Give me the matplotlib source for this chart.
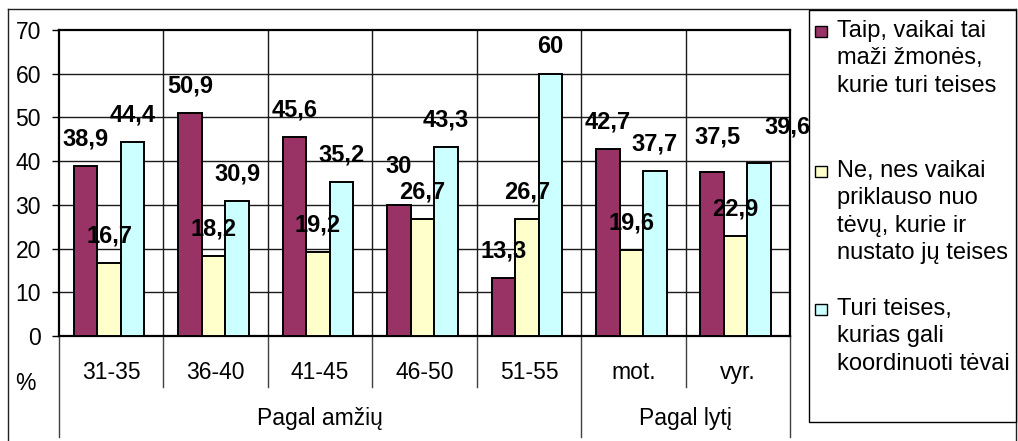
import matplotlib.pyplot as plt
from matplotlib.patches import Rectangle
from matplotlib.lines import Line2D
import matplotlib.transforms as mtransforms

plt.rcParams['font.family'] = ['Liberation Sans', 'DejaVu Sans']

# -------------------------------
# Duomenys
# -------------------------------
categories = ["31-35", "36-40", "41-45", "46-50", "51-55", "mot.", "vyr."]
taip = [38.9, 50.9, 45.6, 30, 13.3, 42.7, 37.5]
ne = [16.7, 18.2, 19.2, 26.7, 26.7, 19.6, 22.9]
turi = [44.4, 30.9, 35.2, 43.3, 60, 37.7, 39.6]
series = [taip, ne, turi]
series_names = [
    "Taip, vaikai tai\nmaži žmonės,\nkurie turi teises",
    "Ne, nes vaikai\npriklauso nuo\ntėvų, kurie ir\nnustato jų teises",
    "Turi teises,\nkurias gali\nkoordinuoti tėvai",
]
groups = ["Pagal amžių", "Pagal lytį"]
group_sizes = [5, 2]

colors = ["#993366", "#FFFFCC", "#CCFFFF"]

W, H = 1018, 441
def px(x, y):
    return x / W, 1 - y / H

fig = plt.figure(figsize=(W / 100, H / 100), dpi=100)
ax = fig.add_axes([59 / W, 1 - 336 / H, (790 - 59) / W, (336 - 30) / H])

bw = 0.225
n = len(categories)
for s, vals in enumerate(series):
    xs = [i + 0.48 + (s - 1) * bw for i in range(n)]
    ax.bar(xs, vals, width=bw, color=colors[s], edgecolor='black',
           linewidth=1.4, zorder=3)

# etikečių poslinkiai (px), kur Excel jas padėjo kitaip
extra = {(0, 3): (0, 11), (0, 6): (5, 8), (2, 6): (28, 9)}
for s, vals in enumerate(series):
    for i, v in enumerate(vals):
        dx, dy = extra.get((s, i), (0, 0))
        ax.annotate(f"{v:g}".replace(".", ","),
                    (i + 0.48 + (s - 1) * bw, v),
                    xytext=(dx * 0.72, (27 + dy) * 0.72),
                    textcoords='offset points', ha='center', va='center',
                    fontsize=17, fontweight='bold', zorder=5,
                    annotation_clip=False)

ax.set_xlim(0, n)
ax.set_ylim(0, 70)
ax.set_yticks(range(0, 71, 10))
ax.tick_params(axis='y', direction='out', length=5, width=1, pad=8,
               labelsize=16.5)
ax.set_xticks([i + 0.5 for i in range(n)])
ax.set_xticklabels(categories, fontsize=16.5)
ax.tick_params(axis='x', length=0, pad=18)

for v in range(10, 70, 10):
    ax.axhline(v, color='#1a1a1a', linewidth=1, zorder=1)
for i in range(1, n):
    ax.axvline(i, color='#1a1a1a', linewidth=1, zorder=1)
for sp in ax.spines.values():
    sp.set_linewidth(1.6)

# separatoriai po ašimi
trans = mtransforms.blended_transform_factory(ax.transData, ax.transAxes)
long_lines = [0]
pos = 0
for g in group_sizes:
    pos += g
    long_lines.append(pos)
for i in range(n + 1):
    y_end = -0.33 if i in long_lines else -0.167
    ax.plot([i, i], [0, y_end], transform=trans, color='#404040',
            linewidth=1, clip_on=False)

start = 0
for g, size in zip(groups, group_sizes):
    ax.text(start + size / 2, -0.268, g, transform=trans, ha='center',
            va='center', fontsize=16.5)
    start += size

fig.text(*px(25, 384), "%", ha='center', va='center', fontsize=16.5)

# išorinis rėmelis
fig.add_artist(Line2D([8 / W, 1016 / W], [1 - 9 / H, 1 - 9 / H],
                      color='#202020', linewidth=1))
fig.add_artist(Line2D([8 / W, 8 / W], [1 - 9 / H, 0], color='#202020',
                      linewidth=1))
fig.add_artist(Line2D([1016 / W, 1016 / W], [1 - 9 / H, 0],
                      color='#202020', linewidth=1))

# legenda
fig.add_artist(Rectangle(px(809, 422), (1016 - 809) / W, (422 - 10) / H,
                         facecolor='white', edgecolor='black', linewidth=1,
                         zorder=3))
legend_y = [32, 172, 310]
for s, name in enumerate(series_names):
    y = legend_y[s]
    fig.add_artist(Rectangle(px(815, y + 5), 12 / W, 11 / H,
                             facecolor=colors[s], edgecolor='black',
                             linewidth=1, zorder=4))
    fig.text(*px(837, y - 12), name, ha='left', va='top', fontsize=17,
             linespacing=1.32, zorder=5)

fig.savefig("out.png", dpi=100)
